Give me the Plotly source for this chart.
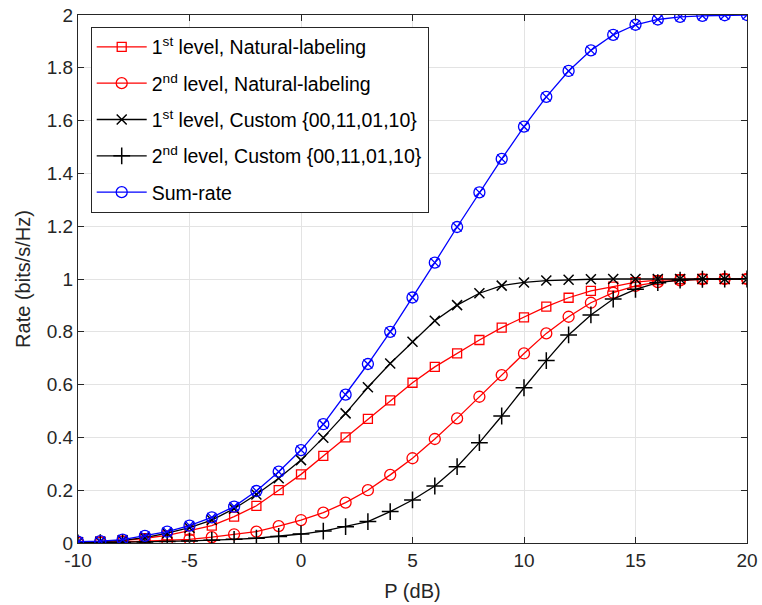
import plotly.graph_objects as go

P_dB = list(range(-10, 21))

nat_1st = [0.003, 0.005, 0.009, 0.018, 0.029, 0.047, 0.066, 0.100, 0.141, 0.200, 0.260,
           0.330, 0.400, 0.470, 0.540, 0.607, 0.667, 0.718, 0.769, 0.816, 0.855,
           0.895, 0.929, 0.955, 0.971, 0.988, 0.996, 0.999, 1.0, 1.0, 1.0]
nat_2nd = [0.001, 0.002, 0.004, 0.007, 0.010, 0.014, 0.022, 0.033, 0.043, 0.064, 0.087,
           0.115, 0.153, 0.200, 0.258, 0.321, 0.394, 0.472, 0.554, 0.636, 0.718,
           0.794, 0.857, 0.910, 0.948, 0.974, 0.988, 0.995, 0.999, 1.0, 1.0]
cus_1st = [0.003, 0.005, 0.010, 0.020, 0.037, 0.058, 0.087, 0.130, 0.184, 0.245, 0.314,
           0.399, 0.491, 0.590, 0.680, 0.762, 0.842, 0.901, 0.946, 0.975, 0.987,
           0.994, 0.997, 0.999, 1.0, 1.0, 1.0, 1.0, 1.0, 1.0, 1.0]
cus_2nd = [0.000, 0.001, 0.002, 0.004, 0.006, 0.008, 0.010, 0.014, 0.018, 0.025, 0.034,
           0.045, 0.062, 0.081, 0.119, 0.163, 0.216, 0.289, 0.380, 0.481, 0.588,
           0.691, 0.788, 0.864, 0.924, 0.961, 0.986, 0.996, 0.999, 1.0, 1.0]
sum_rate = [0.005, 0.007, 0.013, 0.027, 0.043, 0.066, 0.097, 0.138, 0.197, 0.270, 0.352,
            0.450, 0.562, 0.678, 0.800, 0.930, 1.062, 1.197, 1.328, 1.455, 1.577,
            1.690, 1.788, 1.866, 1.925, 1.963, 1.983, 1.993, 1.997, 1.999, 2.0]

x_ticks = [-10, -5, 0, 5, 10, 15, 20]
x_ticktext = ["-10", "-5", "0", "5", "10", "15", "20"]
y_ticks = [0, 0.2, 0.4, 0.6, 0.8, 1, 1.2, 1.4, 1.6, 1.8, 2]
y_ticktext = ["0", "0.2", "0.4", "0.6", "0.8", "1", "1.2", "1.4", "1.6", "1.8", "2"]

FONT = "Liberation Sans, Arial, Helvetica, sans-serif"
RED = "#ff0000"
BLACK = "#000000"
BLUE = "#0000ff"

fig = go.Figure()
fig.add_trace(go.Scatter(x=P_dB, y=nat_1st, mode="lines+markers", legendgroup="a",
                         name="1<sup>st</sup> level, Natural-labeling",
                         line=dict(color=RED, width=1.3),
                         marker=dict(symbol="square-open", size=9, color=RED, line=dict(width=1.3))))
fig.add_trace(go.Scatter(x=P_dB, y=nat_2nd, mode="lines+markers", legendgroup="b",
                         name="2<sup>nd</sup> level, Natural-labeling",
                         line=dict(color=RED, width=1.3),
                         marker=dict(symbol="circle-open", size=11, color=RED, line=dict(width=1.3))))
fig.add_trace(go.Scatter(x=P_dB, y=cus_1st, mode="lines+markers", legendgroup="c",
                         name="1<sup>st</sup> level, Custom {00,11,01,10}",
                         line=dict(color=BLACK, width=1.3),
                         marker=dict(symbol="x-thin-open", size=10, color=BLACK, line=dict(width=1.5, color=BLACK))))
fig.add_trace(go.Scatter(x=P_dB, y=cus_2nd, mode="lines+markers", legendgroup="d",
                         name="2<sup>nd</sup> level, Custom {00,11,01,10}",
                         line=dict(color=BLACK, width=1.3),
                         marker=dict(symbol="cross-thin-open", size=12, color=BLACK, line=dict(width=1.5, color=BLACK))))
fig.add_trace(go.Scatter(x=P_dB, y=sum_rate, mode="lines+markers", legendgroup="e",
                         name="Sum-rate",
                         line=dict(color=BLUE, width=1.3),
                         marker=dict(symbol="circle-open", size=11, color=BLUE, line=dict(width=1.3))))
fig.add_trace(go.Scatter(x=P_dB, y=sum_rate, mode="markers", showlegend=False, legendgroup="e",
                         marker=dict(symbol="x-thin-open", size=9, color=BLUE, line=dict(width=1.3, color=BLUE))))

axis_common = dict(showgrid=True, gridcolor="#e3e3e3", gridwidth=1, automargin=False,
                   showline=True, linecolor="#262626", linewidth=1, mirror="allticks",
                   ticks="inside", ticklen=6, tickcolor="#262626", zeroline=False,
                   tickfont=dict(family=FONT, size=19, color="#262626"))

fig.update_xaxes(range=[-10, 20], tickvals=x_ticks, ticktext=x_ticktext,
                 title=dict(text="P (dB)", font=dict(family=FONT, size=20, color="#262626"), standoff=14),
                 **axis_common)
fig.update_yaxes(range=[0, 2], tickvals=y_ticks, ticktext=y_ticktext,
                 title=dict(text="Rate (bits/s/Hz)", font=dict(family=FONT, size=20, color="#262626"), standoff=10),
                 **axis_common)

fig.update_layout(
    width=762, height=605,
    margin=dict(l=78, r=15, t=15, b=62),
    plot_bgcolor="white", paper_bgcolor="white",
    font=dict(family=FONT, size=19, color="#000000"),
    legend=dict(x=0.019, y=0.978, xanchor="left", yanchor="top",
                bgcolor="white", bordercolor="#262626", borderwidth=1,
                itemwidth=50, font=dict(family=FONT, size=19.5, color="#000000"),
                tracegroupgap=8),
)

fig.write_html("out.html")
